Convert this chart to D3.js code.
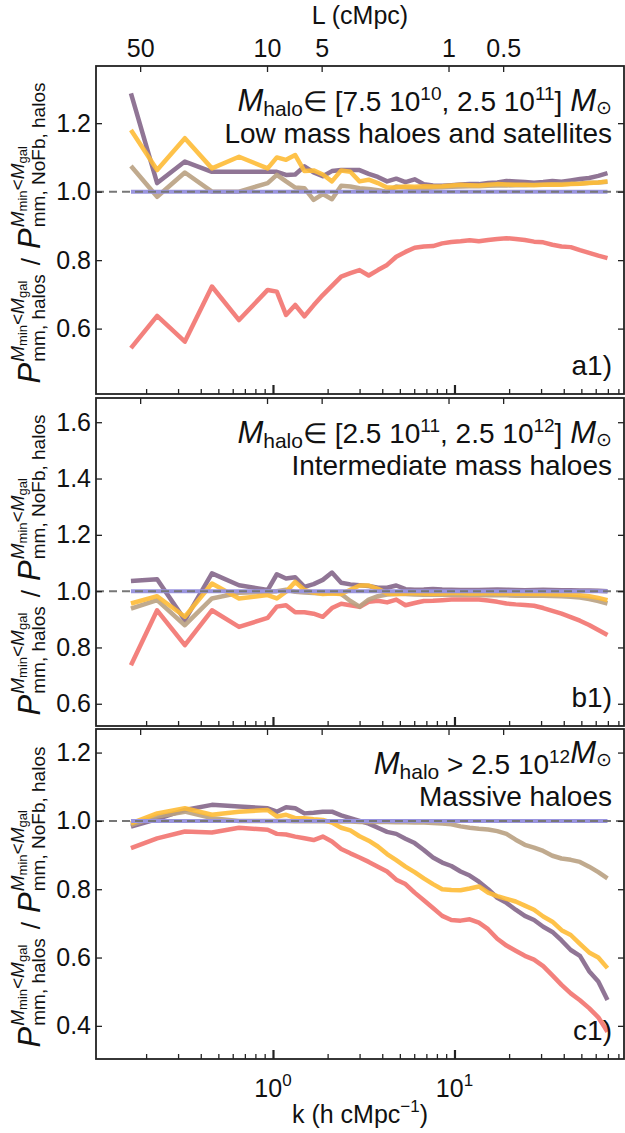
<!DOCTYPE html>
<html>
<head>
<meta charset="utf-8">
<script src="https://cdn.jsdelivr.net/npm/d3@7"></script>
<style>
body { margin: 0; background: #fff; }
text { font-family: "Liberation Sans", Arial, sans-serif; fill: #111; }
</style>
</head>
<body>
<div id="root"></div>
<script>
const W = 625, H = 1133

// k bins (h cMpc^-1)
const kValues = [0.165, 0.230, 0.327, 0.461, 0.650, 0.935, 1.050, 1.180, 1.326, 1.490, 1.674, 1.881,
    2.113, 2.375, 2.668, 2.998, 3.369, 3.784, 4.252, 4.778, 5.368, 6.032, 6.776, 7.614, 8.555, 9.612,
    10.80, 12.13, 13.63, 15.32, 17.21, 19.34, 21.73, 24.41, 27.43, 30.82, 34.63, 38.90, 43.71, 49.11,
    55.18, 62.00, 69.66]

// panel a1 : low mass haloes and satellites
const lowRed = [0.543, 0.637, 0.562, 0.723, 0.625, 0.713, 0.708, 0.640, 0.669, 0.636, 0.668, 0.698,
    0.725, 0.752, 0.762, 0.771, 0.755, 0.771, 0.786, 0.810, 0.824, 0.836, 0.840, 0.841, 0.849, 0.853,
    0.855, 0.858, 0.855, 0.859, 0.862, 0.864, 0.862, 0.859, 0.854, 0.852, 0.845, 0.840, 0.838, 0.829,
    0.821, 0.813, 0.806]
const lowPurple = [1.287, 1.025, 1.088, 1.058, 1.058, 1.058, 1.058, 1.049, 1.050, 1.074, 1.056, 1.045,
    1.060, 1.063, 1.063, 1.063, 1.052, 1.043, 1.030, 1.038, 1.028, 1.036, 1.022, 1.018, 1.017, 1.019,
    1.021, 1.022, 1.022, 1.025, 1.027, 1.031, 1.030, 1.028, 1.026, 1.028, 1.031, 1.029, 1.033, 1.037,
    1.040, 1.046, 1.054]
const lowGold = [1.180, 1.063, 1.156, 1.068, 1.102, 1.068, 1.100, 1.093, 1.107, 1.060, 1.062, 1.050,
    1.030, 1.062, 1.058, 1.030, 1.035, 1.025, 1.012, 1.012, 1.015, 1.014, 1.016, 1.015, 1.016, 1.018,
    1.020, 1.019, 1.018, 1.020, 1.022, 1.021, 1.020, 1.020, 1.019, 1.020, 1.021, 1.020, 1.022, 1.023,
    1.025, 1.027, 1.030]
const lowTan = [1.075, 0.985, 1.056, 1.000, 1.000, 1.025, 1.049, 1.030, 1.012, 1.010, 0.976, 0.993,
    0.978, 1.017, 1.015, 1.010, 1.008, 1.004, 1.000, 1.015, 1.012, 1.010, 1.011, 1.012, 1.013, 1.014,
    1.015, 1.016, 1.016, 1.017, 1.018, 1.018, 1.019, 1.019, 1.020, 1.020, 1.021, 1.022, 1.023, 1.024,
    1.026, 1.027, 1.029]

// panel b1 : intermediate mass haloes
const midRed = [0.737, 0.932, 0.808, 0.932, 0.873, 0.905, 0.945, 0.950, 0.925, 0.925, 0.920, 0.909,
    0.940, 0.955, 0.950, 0.944, 0.962, 0.966, 0.960, 0.970, 0.950, 0.958, 0.965, 0.966, 0.968, 0.970,
    0.970, 0.970, 0.970, 0.967, 0.962, 0.956, 0.953, 0.951, 0.948, 0.940, 0.930, 0.920, 0.908, 0.895,
    0.880, 0.862, 0.844]
const midPurple = [1.036, 1.042, 0.897, 1.063, 1.021, 1.004, 1.060, 1.045, 1.049, 1.015, 1.025, 1.040,
    1.066, 1.030, 1.024, 1.021, 1.018, 1.012, 1.012, 1.020, 1.007, 1.005, 1.006, 1.008, 1.006, 1.005,
    1.004, 1.004, 1.004, 1.005, 1.006, 1.005, 1.004, 1.003, 1.004, 1.005, 1.004, 1.003, 1.003, 1.002,
    1.002, 1.001, 1.000]
const midGold = [0.956, 0.982, 0.909, 1.027, 0.974, 0.986, 0.974, 0.998, 1.033, 1.004, 0.995, 0.990,
    0.992, 0.990, 1.005, 1.020, 1.020, 1.008, 0.992, 0.990, 0.992, 0.993, 0.992, 0.991, 0.992, 0.993,
    0.993, 0.992, 0.992, 0.993, 0.992, 0.992, 0.991, 0.991, 0.990, 0.990, 0.989, 0.988, 0.987, 0.985,
    0.982, 0.976, 0.968]
const midTan = [0.938, 0.968, 0.879, 0.974, 0.994, 0.998, 1.000, 1.005, 0.998, 0.995, 0.993, 0.992,
    0.995, 0.990, 0.965, 0.945, 0.970, 0.982, 0.988, 0.990, 0.990, 0.988, 0.987, 0.988, 0.987, 0.987,
    0.986, 0.986, 0.986, 0.985, 0.985, 0.985, 0.984, 0.984, 0.984, 0.984, 0.983, 0.982, 0.980, 0.977,
    0.972, 0.965, 0.956]

// panel c1 : massive haloes
const highRed = [0.920, 0.949, 0.969, 0.966, 0.980, 0.974, 0.962, 0.960, 0.954, 0.949, 0.944, 0.954,
    0.940, 0.918, 0.905, 0.893, 0.880, 0.866, 0.852, 0.828, 0.815, 0.790, 0.768, 0.745, 0.722, 0.710,
    0.708, 0.712, 0.702, 0.683, 0.655, 0.635, 0.620, 0.605, 0.594, 0.575, 0.548, 0.520, 0.495, 0.475,
    0.452, 0.425, 0.383]
const highPurple = [0.983, 1.005, 1.032, 1.047, 1.042, 1.037, 1.027, 1.040, 1.037, 1.022, 1.024, 1.027,
    1.027, 1.016, 1.008, 1.000, 0.992, 0.980, 0.968, 0.962, 0.948, 0.935, 0.915, 0.893, 0.878, 0.868,
    0.852, 0.840, 0.822, 0.800, 0.775, 0.760, 0.740, 0.722, 0.710, 0.690, 0.675, 0.650, 0.622, 0.605,
    0.560, 0.530, 0.476]
const highGold = [0.993, 1.022, 1.037, 1.018, 1.027, 1.032, 1.013, 1.018, 1.008, 1.008, 1.005, 1.003,
    0.995, 0.980, 0.972, 0.955, 0.942, 0.925, 0.903, 0.885, 0.866, 0.850, 0.832, 0.815, 0.800, 0.798,
    0.797, 0.802, 0.808, 0.790, 0.780, 0.772, 0.764, 0.752, 0.740, 0.720, 0.705, 0.680, 0.666, 0.640,
    0.615, 0.600, 0.569]
const highTan = [0.988, 1.013, 1.027, 1.008, 1.000, 1.000, 1.000, 1.000, 0.999, 1.000, 0.999, 0.999,
    0.998, 0.998, 0.998, 0.997, 0.997, 0.997, 0.997, 0.996, 0.996, 0.995, 0.995, 0.994, 0.992, 0.990,
    0.984, 0.980, 0.977, 0.975, 0.970, 0.962, 0.945, 0.930, 0.922, 0.912, 0.898, 0.890, 0.886, 0.880,
    0.866, 0.850, 0.832]

const noFbRatio = 1.0

// axis tick labels
const lTickLabels = [50, 10, 5, 1, 0.5]
const kMinorTicks = [0.2, 0.3, 0.4, 0.5, 0.6, 0.7, 0.8, 0.9, 2, 3, 4, 5, 6, 7, 8, 9, 20, 30, 40, 50, 60, 70, 80]
const kMajorTicks = [1, 10]
const hubble = 0.6777

const colors = {red: "#F2736F", purple: "#84668A", tan: "#B9A182", gold: "#FEBB36", nofb: "#9A95DF"}

const x0 = 96, x1 = 624
const xScale = d3.scaleLog().domain([0.1059, 85.9]).range([x0, x1])

const panels = [
    {top: 66, bottom: 394, yDomain: [0.409, 1.367], major: [0.6, 0.8, 1.0, 1.2],
        series: [lowRed, lowPurple, lowTan, lowGold], tag: "a1)",
        title: ["\u2208 [7.5 10", "10", ", 2.5 10", "11", "] "], sub: "Low mass haloes and satellites"},
    {top: 398, bottom: 726, yDomain: [0.521, 1.686], major: [0.6, 0.8, 1.0, 1.2, 1.4, 1.6],
        series: [midRed, midPurple, midTan, midGold], tag: "b1)",
        title: ["\u2208 [2.5 10", "11", ", 2.5 10", "12", "] "], sub: "Intermediate mass haloes"},
    {top: 729, bottom: 1059, yDomain: [0.303, 1.269], major: [0.4, 0.6, 0.8, 1.0, 1.2],
        series: [highRed, highPurple, highTan, highGold], tag: "c1)",
        title: null, sub: "Massive haloes"}
]
const seriesColors = [colors.red, colors.purple, colors.tan, colors.gold]

const svg = d3.select("#root").append("svg")
    .attr("width", W)
    .attr("height", H)
    .style("background", "#fff")

function drawYLabel(cx, cy) {
    const outer = svg.append("g").attr("transform", `translate(${cx},${cy}) rotate(-90)`)
    const lab = outer.append("g")
    let pos = 0
    function term(subText) {
        const P = lab.append("text").attr("x", pos).attr("font-size", 31).attr("font-style", "italic").text("P")
        pos += P.node().getComputedTextLength() + 1
        const sup = lab.append("text").attr("x", pos).attr("y", -16).attr("font-size", 19)
        sup.append("tspan").attr("font-style", "italic").text("M")
        sup.append("tspan").attr("font-size", 13).attr("dy", 3).text("min")
        sup.append("tspan").attr("dy", -3).text("<")
        sup.append("tspan").attr("font-style", "italic").text("M")
        sup.append("tspan").attr("font-size", 13).attr("dy", 3).text("gal")
        const sb = lab.append("text").attr("x", pos).attr("y", 5).attr("font-size", 19).text(subText)
        pos += Math.max(sup.node().getComputedTextLength(), sb.node().getComputedTextLength())
    }
    term("mm, halos")
    pos += 9
    const slash = lab.append("text").attr("x", pos).attr("font-size", 26).text("/")
    pos += slash.node().getComputedTextLength() + 9
    term("mm, NoFb, halos")
    lab.attr("transform", `translate(${-pos / 2},0)`)
}

function drawPanel(p, idx) {
    const y = d3.scaleLinear().domain(p.yDomain).range([p.bottom, p.top])
    const g = svg.append("g")

    const line = d3.line()
        .x((d, i) => xScale(kValues[i]))
        .y(d => y(d))

    p.series.forEach((s, i) => {
        g.append("path")
            .datum(s)
            .attr("d", line)
            .attr("fill", "none")
            .attr("stroke", seriesColors[i])
            .attr("stroke-opacity", 0.9)
            .attr("stroke-width", 4.5)
            .attr("stroke-linejoin", "round")
    })

    // NoFb reference (ratio = 1) and dashed unity line
    g.append("path")
        .datum(kValues.map(() => noFbRatio))
        .attr("d", line)
        .attr("fill", "none")
        .attr("stroke", colors.nofb)
        .attr("stroke-width", 4)

    g.append("line")
        .attr("x1", x0).attr("x2", x1)
        .attr("y1", y(1)).attr("y2", y(1))
        .attr("stroke", "#777")
        .attr("stroke-width", 2)
        .attr("stroke-dasharray", "8,5")

    // y axes (left + right), ticks inward
    const minor = d3.range(Math.ceil(p.yDomain[0] / 0.05), Math.floor(p.yDomain[1] / 0.05) + 1).map(d => +(d * 0.05).toFixed(2))
    const left = g.append("g").attr("transform", `translate(${x0},0)`)
    left.call(d3.axisLeft(y).tickValues(minor).tickFormat("").tickSizeInner(-4).tickSizeOuter(0))
    left.call(d3.axisLeft(y).tickValues(p.major).tickFormat(d3.format(".1f")).tickSizeInner(-6).tickSizeOuter(0).tickPadding(5))
    const right = g.append("g").attr("transform", `translate(${x1},0)`)
    right.call(d3.axisRight(y).tickValues(minor).tickFormat("").tickSizeInner(-4).tickSizeOuter(0))
    right.call(d3.axisRight(y).tickValues(p.major).tickFormat("").tickSizeInner(-6).tickSizeOuter(0))

    // bottom k ticks
    const bot = g.append("g").attr("transform", `translate(0,${p.bottom})`)
    bot.call(d3.axisBottom(xScale).tickValues(kMinorTicks).tickFormat("").tickSizeInner(-5).tickSizeOuter(0))
    const botMaj = g.append("g").attr("transform", `translate(0,${p.bottom})`)
    botMaj.call(d3.axisBottom(xScale).tickValues(kMajorTicks).tickFormat("").tickSizeInner(-9).tickSizeOuter(0))
    botMaj.selectAll("line").attr("stroke-width", 2.2)

    // top L ticks
    const topAx = g.append("g").attr("transform", `translate(0,${p.top})`)
    topAx.call(d3.axisTop(xScale).tickValues(lTickLabels.map(L => 2 * Math.PI / (L * hubble)))
        .tickFormat((d, i) => lTickLabels[i]).tickSizeInner(-6).tickSizeOuter(0).tickPadding(9))
    if (idx !== 0) topAx.selectAll("text").remove()

    g.selectAll(".domain").remove()
    g.selectAll(".tick line").attr("stroke", "#222").filter(function () {
        return !d3.select(this).attr("stroke-width")
    }).attr("stroke-width", 1.3)
    g.selectAll(".tick text").attr("font-size", 25).attr("fill", "#111")
        .attr("font-family", "'Liberation Sans', Arial, sans-serif")

    // frame
    g.append("rect")
        .attr("x", x0).attr("y", p.top)
        .attr("width", x1 - x0).attr("height", p.bottom - p.top)
        .attr("fill", "none").attr("stroke", "#222").attr("stroke-width", 1.8)

    // annotations
    const tx = 612
    const t1 = g.append("text").attr("x", tx).attr("y", p.top + 45).attr("text-anchor", "end").attr("font-size", 28)
    t1.append("tspan").attr("font-style", "italic").attr("font-size", 31).text("M")
    t1.append("tspan").attr("font-size", 21).attr("dy", 5).text("halo")
    if (p.title) {
        const t = p.title
        t1.append("tspan").attr("dy", -5).text(t[0])
        t1.append("tspan").attr("font-size", 19).attr("dy", -11).text(t[1])
        t1.append("tspan").attr("dy", 11).text(t[2])
        t1.append("tspan").attr("font-size", 19).attr("dy", -11).text(t[3])
        t1.append("tspan").attr("dy", 11).text(t[4])
    } else {
        t1.append("tspan").attr("dy", -5).text("\u00a0> 2.5 10")
        t1.append("tspan").attr("font-size", 19).attr("dy", -11).text("12")
        t1.append("tspan").attr("dy", 11).text("")
    }
    t1.append("tspan").attr("font-style", "italic").attr("font-size", 31).text("M")
    t1.append("tspan").attr("font-size", 19).attr("dy", 3).text("\u2299")

    g.append("text").attr("x", tx).attr("y", p.top + 77).attr("text-anchor", "end")
        .attr("font-size", 28).text(p.sub)
    g.append("text").attr("x", tx).attr("y", p.bottom - 19).attr("text-anchor", "end")
        .attr("font-size", 28).text(p.tag)

    drawYLabel(40, (p.top + p.bottom) / 2 + 3)
}

panels.forEach(drawPanel)

// top axis title
svg.append("text").attr("x", (x0 + x1) / 2).attr("y", 24).attr("text-anchor", "middle")
    .attr("font-size", 25).text("L (cMpc)")

// bottom tick labels 10^0, 10^1
const lastBottom = panels[2].bottom
kMajorTicks.forEach((k, i) => {
    const t = svg.append("text").attr("x", xScale(k)).attr("y", lastBottom + 38)
        .attr("text-anchor", "middle").attr("font-size", 25)
    t.append("tspan").text("10")
    t.append("tspan").attr("font-size", 17).attr("dy", -11).text(String(i))
})

const xl = svg.append("text").attr("x", (x0 + x1) / 2).attr("y", lastBottom + 64)
    .attr("text-anchor", "middle").attr("font-size", 25)
xl.append("tspan").text("k (h cMpc")
xl.append("tspan").attr("font-size", 17).attr("dy", -11).text("\u22121")
xl.append("tspan").attr("dy", 11).text(")")
</script>
</body>
</html>
